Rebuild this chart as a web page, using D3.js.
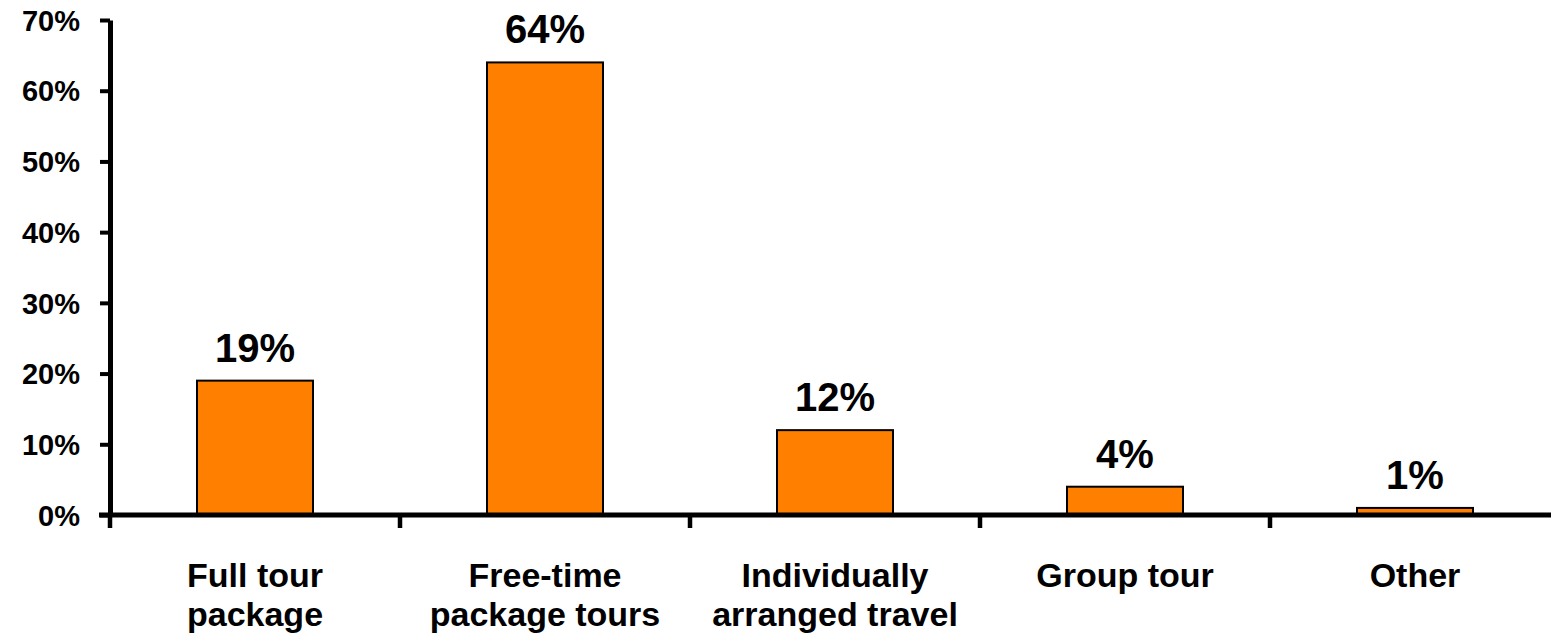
<!DOCTYPE html>
<html>
<head>
<meta charset="utf-8">
<script src="https://cdn.jsdelivr.net/npm/d3@7"></script>
<style>
  html, body { margin: 0; padding: 0; background: #fff; }
  svg { display: block; }
  text { font-family: "Liberation Sans", Arial, sans-serif; font-weight: bold; fill: #000; }
</style>
</head>
<body>
<svg id="chart" width="1551" height="640"></svg>
<script>
const categories = [["Full tour", "package"], ["Free-time", "package tours"], ["Individually", "arranged travel"], ["Group tour"], ["Other"]];
const values = [0.19, 0.64, 0.12, 0.04, 0.01];
const yTicks = [0, 0.1, 0.2, 0.3, 0.4, 0.5, 0.6, 0.7];

(function () {
const svg = d3.select("#chart");
const keys = categories.map((c, i) => i);
const mLeft = 110, mRight = 1560, mTop = 20, mBottom = 515;

const y = d3.scaleLinear().domain([0, 0.7]).range([mBottom, mTop]);
const xOuter = d3.scaleBand().domain(keys).range([mLeft, mRight]).padding(0);
const xBar = d3.scaleBand().domain(keys).range([mLeft, mRight]).paddingInner(0.6).paddingOuter(0.3);
const fmt = d3.format(".0%");

// bars
svg.append("g").selectAll("rect").data(values).join("rect")
  .attr("x", (d, i) => xBar(i))
  .attr("y", d => y(d))
  .attr("width", xBar.bandwidth())
  .attr("height", d => mBottom - y(d))
  .attr("fill", "#FF8000")
  .attr("stroke", "#000")
  .attr("stroke-width", 2);

// value labels
svg.append("g").selectAll("text").data(values).join("text")
  .attr("x", (d, i) => xBar(i) + xBar.bandwidth() / 2)
  .attr("y", d => y(d) - 19)
  .attr("text-anchor", "middle")
  .style("font-size", "40px")
  .text(d => fmt(d));

// y axis
const yAxis = d3.axisLeft(y).tickValues(yTicks).tickFormat(fmt).tickSize(10).tickSizeOuter(0).tickPadding(20);
const gy = svg.append("g").attr("transform", `translate(${mLeft},0)`).call(yAxis);
gy.select(".domain").attr("stroke", "#000").style("stroke-width", "5px");
gy.selectAll(".tick line").attr("stroke", "#000").style("stroke-width", "4px");
gy.selectAll(".tick text").style("font-size", "29px").style("font-family", '"Liberation Sans", Arial, sans-serif').style("font-weight", "bold").attr("fill", "#000").attr("dy", "0.35em");

// x axis line
svg.append("line")
  .attr("x1", mLeft - 11).attr("x2", 1551)
  .attr("y1", y(0)).attr("y2", y(0))
  .attr("stroke", "#000").attr("stroke-width", 5);

// x ticks at category boundaries
const bounds = keys.map(k => xOuter(k)).concat([mRight]);
svg.append("g").selectAll("line").data(bounds).join("line")
  .attr("x1", d => d).attr("x2", d => d)
  .attr("y1", y(0)).attr("y2", y(0) + 13)
  .attr("stroke", "#000").attr("stroke-width", 4.5);

// category labels
const cat = svg.append("g").selectAll("text").data(categories).join("text")
  .attr("x", (d, i) => xOuter(i) + xOuter.bandwidth() / 2)
  .attr("y", 587)
  .attr("text-anchor", "middle")
  .style("font-size", "34px");
cat.selectAll("tspan").data(d => d).join("tspan")
  .attr("x", function () { return d3.select(this.parentNode).attr("x"); })
  .attr("dy", (d, i) => i === 0 ? 0 : 39)
  .text(d => d);
})();
</script>
</body>
</html>
